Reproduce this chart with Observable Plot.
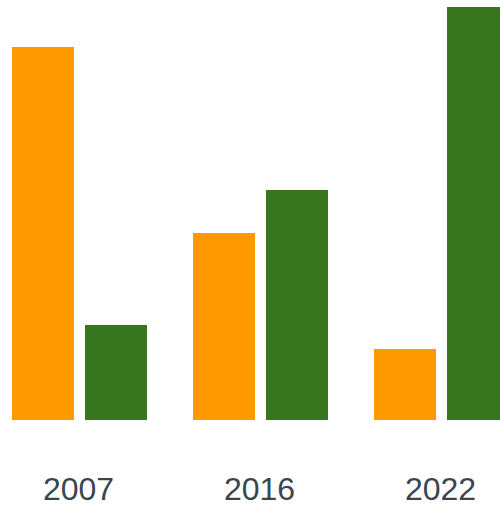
<!DOCTYPE html>
<html>
<head>
<meta charset="utf-8">
<script src="https://cdn.jsdelivr.net/npm/d3@7"></script>
<script src="https://cdn.jsdelivr.net/npm/@observablehq/plot@0.6"></script>
<style>
  html, body { margin: 0; padding: 0; background: #fff; overflow: hidden; }
</style>
</head>
<body>
<div id="chart"></div>
<script>
const years = ["2007", "2016", "2022"];
const seriesNames = ["Series A", "Series B"];
const seriesAValues = [37.3, 18.7, 7.1];
const seriesBValues = [9.5, 23.0, 41.3];
const seriesColors = ["#ff9900", "#38761d"];

const data = [];
years.forEach((y, i) => {
  data.push({year: y, series: seriesNames[0], value: seriesAValues[i]});
  data.push({year: y, series: seriesNames[1], value: seriesBValues[i]});
});

const chart = Plot.plot({
  width: 500,
  height: 508,
  marginTop: 0,
  marginLeft: 0,
  marginRight: 0,
  marginBottom: 88,
  style: {overflow: "hidden", fontFamily: "'Liberation Sans', Arial, sans-serif", color: "#3a4550", background: "#fff"},
  fx: {domain: years, range: [11.5, 509.5], paddingInner: 0.256, paddingOuter: 0, align: 0.5, label: null},
  x: {domain: seriesNames, paddingInner: 11 / 73, paddingOuter: 0, axis: null},
  y: {domain: [0, 41.3], range: [420, 7], axis: null},
  color: {type: "ordinal", domain: seriesNames, range: seriesColors},
  marks: [
    Plot.barY(data, {fx: "year", x: "series", y: "value", fill: "series"}),
    Plot.axisFx({anchor: "bottom", tickSize: 0, tickPadding: 57, fontSize: 32, fill: "#3a4550", label: null, dx: -1.5})
  ]
});
document.getElementById("chart").appendChild(chart);
</script>
</body>
</html>
